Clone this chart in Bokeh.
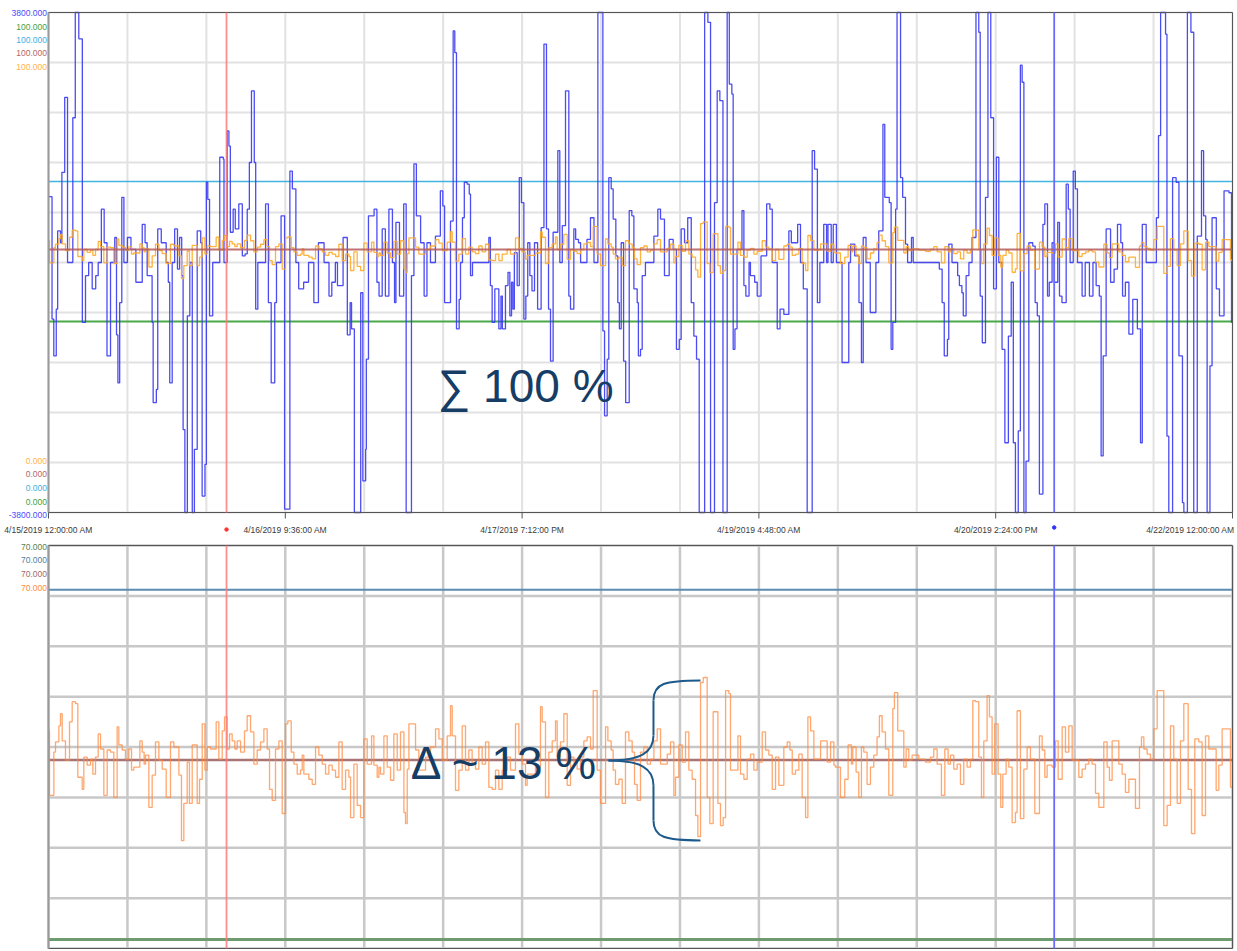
from bokeh.plotting import figure
from bokeh.models import Range1d, Label
from bokeh.core.properties import value
from bokeh.embed import file_html
from bokeh.resources import INLINE

# ---------------- data (hours since 4/15/2019 00:00) ----------------
blue_hours = [0.0, 0.5, 0.75, 1.1, 1.3, 1.7, 1.9, 2.3, 2.7, 3.45, 3.8, 4.3, 4.8, 5.25, 5.7, 6.2, 6.7, 7.05, 7.5, 7.9,
              8.3, 8.8, 9.4, 9.65, 9.85, 10.1, 10.4, 10.7, 11.2, 11.7, 12.4, 13.3, 13.7, 14.0, 14.7, 14.85, 15.3, 15.5,
              16.0, 16.7, 17.0, 17.2, 17.55, 17.9, 18.3, 18.6, 18.9, 19.1, 19.35, 19.7, 20.05, 20.4, 20.7, 21.1, 21.6,
              21.8, 22.2, 22.4, 22.6, 22.85, 23.3, 24.3, 24.8, 24.9, 25.35, 25.6, 25.8, 26.2, 26.5, 27.0, 27.5, 27.9,
              28.2, 28.5, 28.8, 29.2, 29.4, 29.7, 30.8, 31.2, 31.6, 32.1, 32.35, 33.0, 33.5, 34.25, 34.6, 35.1, 35.5,
              36.2, 36.9, 37.65, 38.3, 39.1, 39.8, 40.2, 40.7, 41.0, 41.8, 42.4, 42.8, 43.0, 43.4, 44.3, 44.6, 45.0,
              45.1, 45.4, 46.2, 46.6, 46.9, 47.35, 47.8, 48.3, 48.8, 49.1, 49.3, 49.8, 50.4, 50.75, 51.5, 51.85, 52.2,
              52.8, 53.3, 53.7, 54.2, 54.9, 55.6, 55.95, 56.2,
              57.04, 57.42, 57.65, 57.89, 58.27, 58.46, 58.74, 59.0, 59.4, 59.7, 59.88, 60.16, 62.48, 62.7, 62.95,
              63.33, 63.9, 64.2, 64.4, 64.84, 65.2, 65.46, 65.7, 65.9, 66.1, 66.5, 66.8, 67.1, 67.45, 67.73, 68.0,
              68.3, 68.6, 68.96, 69.4, 69.9, 70.3, 70.66, 70.95, 71.23, 71.6, 72.27, 72.55, 72.9, 73.36, 73.83, 74.07,
              74.54, 74.8, 75.2, 75.5, 76.4, 76.9, 77.4, 77.95, 78.66, 78.9, 79.27, 79.5, 79.84, 80.12, 80.5, 80.78,
              81.0, 81.26, 81.6, 81.9, 82.4, 82.77, 83.06, 83.53, 83.7, 84.0, 84.24, 84.7, 85.9, 86.46, 86.84, 87.4,
              88.07, 88.64, 89.1, 89.5, 89.77, 90.25, 90.7, 91.2, 91.57, 91.95, 92.33, 93.1, 93.56, 93.94, 94.5,
              94.88, 95.26, 95.7, 96.3, 96.6, 96.96, 97.15, 97.4, 97.7, 98.4, 98.67, 98.95, 99.4, 99.6, 100.2,
              100.56, 101.1, 101.9, 102.36, 102.7, 103.4, 103.8, 104.34, 105.05, 105.4, 106.3, 106.7, 107.1, 107.65,
              108.36, 108.7, 109.1, 109.45, 110.0, 110.4, 110.6, 111.06, 111.35, 111.8,
              112.6, 113.55, 113.8, 114.4, 115.0, 115.35, 115.6, 116.0, 116.6, 117.4, 117.8, 118.4, 118.66, 119.3,
              119.56, 119.8, 120.2, 120.4, 120.9, 121.2, 121.6, 121.9, 122.45, 122.7, 126.4, 126.8, 127.1, 127.55,
              127.74, 128.2, 129.0, 129.25, 129.6, 129.8, 130.2, 130.6, 131.05, 131.6, 132.0, 132.2, 132.5, 132.95,
              133.3, 133.7, 134.1, 134.5, 134.84, 135.3, 135.7, 136.2, 136.6, 136.9, 137.2, 137.6, 137.9, 138.15,
              138.4, 138.7, 139.1, 139.66, 140.0, 140.3, 140.6, 141.1, 141.37, 141.75, 142.0, 142.4, 142.7, 143.2,
              143.45, 143.8, 144.4, 144.7, 144.96, 145.4, 145.7, 146.0, 146.66, 147.1, 147.7, 148.2, 148.65, 149.1,
              149.36, 149.65, 150.07, 150.7, 151.2, 151.68, 152.15, 152.4, 152.8, 153.3, 153.85, 154.5, 154.95, 155.2,
              155.75, 157.2, 157.5, 157.8, 158.5, 158.7, 158.96, 159.5, 160.0, 160.4, 160.9, 161.1, 161.6, 162.1,
              162.5, 163.0, 163.6, 163.9, 164.2, 164.4, 164.8, 165.1, 165.7, 166.15, 166.8, 167.5, 167.86]
blue_values = [1000, -860, -1420, -710, 480, 300, 1370, 2510, 0, 2200, 3800, 3400, -910, -200, 0, -400, -200, 0, 810, 300,
               -1420, 0, 380, -1100, -1830, -610, 990, 0, 380, 200, -300, 580, 300, -200, -910, -2130, -1930, 510,
               300, 0, -300, -1830, 0, 510, -100, 380, -200, -2540, -3800, -810, 0, -3800, -2840, 480, 300,
               -3550, -3070, 1220, 960, -810, 0, 1600, 1570, 0, 2000, 1770, 460, 810, 510, 890, 100, 130,
               810, 1520, 2610, 1520, -710, 0, 890, -610, -1830, -610, 0, 710, -3750, 1390, 1120, 0, -400,
               -300, 0, -610, 300, 0, -510, -300, 0, -350, 380, -1100, -610, -1010, -3800, -460, -3320, -2840,
               -1470, 710, 810, -300, -510, 510, -510, 810, 0, -610, 610, -510, 890, -3800, -200, 1500, 710,
               300, -510, 300, 0, 400, 1090, 860, -610,
               630, 3520, 3190, -1010, -560, 0, 680, 1220, 1190, 1040, -200, 0, 380, -350, -910,
               -400, -1010, -510, -1010, -350, -150, -810, -300, -710, 150, -350, 1290, 910, -860, -510, 300,
               -200, -430, 300, -710, 530, 3320, 510, -710, -1500, 460, 1700, 0, 560, 2610, -510, -710,
               510, 350, 300, 0, 350, 680, 0, 3800, -1040, -2330, -1470, 1290, 1120, 660, 100, -610,
               -1010, 300, -1500, -2130, 790, 710, -400, -610, -1420, -1320, -200, 0, 400, 810, 660, -200,
               350, 200, -1320, -1170, 510, 300, 680, -610, -1120, -1470, -3800, 3800, 3650, -3800, 910,
               2610, 2460, -3800, 3800, 2710, 2560, -1320, -1010, 200, 790, -350, -510, 0, -200, -300,
               -510, 100, 890, 810, 0, -1010, -710, -790, 480, 300, 580, 0, -400, -3800,
               1700, 1420, -610, 0, 580, 0, 580, 0, 580, 0,
               -1520, 0, 280, 100, -610, -1520, 380, 0, -760, 0, 480, 2100, 990, 910,
               -1320, -910, 810, 3800, 1290, 990, 280, 0, 380, 0, -100, -610, -1420, -1170,
               280, 0, -200, -350, -460, -810, -200, 0, 380, 3800, 3500, -510, -1220, 990,
               3800, 2200, -400, 1600, 0, -1320, -2740, -1120, -300, -2740, -3800, -2560, 3000, 2740,
               -3800, -3020, 300, 250, -610, -810, -3520, 580, 890, -510, -300, 300, -300, 610,
               -510, -610, 1190, 810, 0, 1390, 1120, 0, -510, 0, -510, 0, -350, -510,
               -2940, -1420, 510, -300, -100, 580, 300, -510, -300, -1090, -560, -1010, -2740, 580,
               0, 680, 1930, 3800, 3470, -2640, -3800, 1290, 1220, -1420, -3650, -3800, 3800, 3500,
               -3800, 400, 1700, 710, 350, -3800, -1570, 680, -400, -810, 1090, 1060, -910]

orange_hours = [0.0, 0.14, 0.76, 0.99, 1.47, 1.7, 1.94, 2.41, 2.98, 3.36, 3.83, 4.16, 4.78, 5.01, 5.49, 5.96, 6.29, 6.67,
                7.05, 7.38, 7.85, 8.33, 8.8, 9.27, 9.74, 9.98, 10.45, 10.92, 11.4, 11.78, 12.1, 12.96, 13.29, 13.57,
                13.77, 14.24, 14.71, 15.18, 15.66, 16.13, 16.7, 17.31, 17.79, 18.5, 18.87, 19.2, 19.68, 20.0, 20.39,
                21.1, 21.43, 21.81, 22.19, 22.52, 22.99, 23.79, 24.17, 24.65, 24.98, 25.35, 25.69, 26.06, 26.44, 26.77,
                27.25, 27.81, 28.19, 28.67, 29.14, 29.61, 30.09, 30.56, 31.03, 31.36, 31.74, 32.21, 32.69, 33.16,
                33.63, 33.96, 34.44, 34.82, 35.29, 35.76, 36.0, 36.23, 36.94, 37.42, 37.89, 38.36, 38.84, 39.31,
                39.78, 40.26, 40.73, 41.2, 41.67, 42.15, 42.62, 42.86, 43.33, 43.8, 44.28, 44.75, 45.22, 45.84,
                46.17, 46.64, 46.88, 47.11, 47.59, 48.06, 48.53, 49.0, 49.48, 49.95, 50.43, 50.66, 50.9, 51.14,
                52.08, 52.55, 53.5, 54.2, 54.92, 55.4, 55.87,
                56.57, 57.04, 57.28, 57.75, 58.22, 58.7, 59.17, 59.64, 60.11, 60.59, 61.06, 61.53, 62.01, 62.48,
                62.95, 63.43, 63.9, 64.37, 65.08, 65.55, 66.26, 66.74, 67.21, 67.68, 67.92, 69.1, 69.81, 70.05,
                70.52, 70.99, 71.47, 71.94, 72.18, 72.65, 73.12, 73.6, 74.07, 74.54, 75.01, 75.49, 75.96, 76.43,
                76.91, 77.29, 77.85, 78.33, 79.04, 79.37, 79.84, 80.12, 80.45, 80.93, 81.4, 81.87, 82.35, 82.82,
                83.15, 83.53, 84.0, 84.48, 84.95, 85.42, 85.9, 86.37, 86.84, 87.79, 88.26, 88.73, 88.97, 89.44,
                89.92, 90.39, 90.86, 91.33, 91.81, 92.14, 92.52, 92.9, 93.46, 93.84, 94.31, 94.98, 95.35, 95.73,
                96.07, 96.54, 96.77, 97.82, 98.19, 98.67, 99.14, 99.61, 100.09, 100.56, 101.27, 101.74, 102.21,
                102.69, 103.16, 103.63, 104.34, 104.82, 105.2, 105.53, 106.0, 106.47, 106.94, 107.42, 107.75,
                108.13, 108.6, 109.55, 110.49, 110.97, 111.44,
                111.66, 112.37, 112.98, 113.46, 113.93, 114.12, 114.59, 114.97, 115.35, 115.68, 116.15, 116.63,
                117.1, 117.57, 117.9, 118.28, 118.76, 119.23, 119.8, 120.03, 120.5, 121.36, 121.69, 122.07, 122.54,
                123.49, 124.43, 125.14, 125.61, 126.09, 126.7, 127.18, 127.65, 127.98, 128.45, 128.93, 129.4,
                129.87, 130.34, 130.82, 131.15, 131.53, 132.0, 132.38, 132.71, 133.18, 133.51, 133.89, 134.27,
                134.74, 135.12, 135.41, 135.88, 136.26, 136.73, 137.2, 137.44, 137.91, 138.39, 138.86, 139.33,
                139.95, 140.61, 140.99, 141.37, 141.7, 142.41, 142.88, 143.26, 143.83, 144.3, 144.77, 145.25,
                146.19, 146.66, 147.14, 147.61, 148.08, 148.56, 149.03, 149.74, 150.21, 150.54, 150.92, 151.87,
                152.34, 152.81, 153.29, 154.23, 154.8, 155.08, 155.42, 155.89, 156.36, 156.83, 157.31, 158.25,
                158.73, 159.2, 159.67, 160.15, 160.62, 161.09, 161.71, 162.18, 162.65, 163.22, 163.69, 164.17,
                164.64, 165.68, 166.06, 166.53, 167.71]
orange_values = [51.6, 45.2, 49.5, 50.5, 52.1, 53.3, 50.6, 48.7, 52.5, 54.5, 54.3, 47.0, 45.8, 49.0, 48.2, 48.8, 47.3, 49.0,
                 51.3, 49.8, 45.2, 49.7, 49.5, 45.0, 52.0, 50.2, 49.7, 48.8, 49.8, 47.7, 48.0, 50.6, 49.5, 48.3,
                 49.2, 44.0, 47.2, 50.5, 48.7, 47.8, 45.0, 50.5, 50.0, 47.2, 40.7, 44.4, 48.5, 44.4, 50.2,
                 44.4, 46.8, 52.3, 47.7, 50.0, 49.8, 52.5, 48.8, 51.6, 53.0, 49.8, 51.3, 50.6, 49.8, 50.6,
                 49.5, 51.6, 53.1, 51.5, 48.3, 49.7, 50.5, 51.8, 49.8, 45.8, 44.7, 49.8, 50.6, 43.4,
                 52.3, 52.6, 49.5, 48.3, 47.3, 47.7, 49.2, 47.3, 46.8, 46.3, 50.0, 49.2, 48.3, 47.3,
                 48.2, 47.7, 47.0, 50.5, 45.8, 47.7, 47.0, 43.0, 48.3, 44.2, 43.0, 50.8, 48.3, 51.1,
                 48.2, 47.0, 48.0, 47.3, 51.1, 48.0, 46.7, 51.3, 47.7, 51.5, 43.5, 42.4, 47.8, 52.3,
                 49.7, 47.7, 49.0, 50.0, 51.8, 50.8, 48.7,
                 51.1, 54.1, 51.1, 45.7, 47.7, 52.1, 47.7, 49.7, 48.3, 47.8, 50.0, 48.3, 50.5, 46.0,
                 45.8, 47.7, 45.8, 47.7, 49.0, 47.7, 52.3, 49.3, 48.3, 46.2, 47.3, 48.0, 54.0, 52.5,
                 45.0, 49.5, 50.6, 52.6, 49.0, 50.5, 53.3, 46.2, 49.0, 48.5, 47.8, 49.0, 50.6, 51.0,
                 49.8, 55.6, 47.7, 44.4, 52.0, 50.6, 49.7, 47.7, 46.3, 46.8, 44.4, 51.5, 50.6, 49.5,
                 46.3, 44.7, 49.5, 50.0, 48.3, 48.8, 50.6, 51.8, 48.3, 49.3, 50.5, 45.2, 47.0, 50.2,
                 48.5, 51.5, 47.7, 46.8, 43.2, 41.1, 56.4, 56.9, 45.0, 42.4, 53.5, 44.4, 42.2, 43.0,
                 55.6, 55.3, 47.7, 51.1, 47.3, 46.8, 48.8, 49.3, 47.7, 48.5, 51.5, 49.7, 49.2,
                 45.8, 49.0, 46.2, 50.0, 50.5, 49.7, 47.3, 47.7, 49.3, 45.0, 43.0, 53.0,
                 51.6, 48.8, 50.6, 48.5, 50.5, 48.2,
                 48.0, 45.0, 46.8, 50.2, 48.3, 50.0, 47.5, 45.0, 50.0, 49.5, 46.3, 48.0,
                 49.2, 51.0, 53.1, 51.5, 49.8, 45.2, 53.8, 55.4, 51.6, 48.0, 49.8, 48.7, 49.2,
                 48.8, 48.5, 49.0, 49.8, 48.3, 45.2, 49.8, 48.3, 49.2, 47.8, 48.3, 46.3,
                 48.8, 48.0, 48.8, 54.6, 54.5, 49.0, 45.0, 50.6, 55.1, 53.0, 47.3, 52.3,
                 47.3, 44.0, 47.3, 48.8, 48.0, 42.5, 43.5, 53.6, 42.9, 47.8, 50.0, 48.8,
                 43.4, 51.1, 49.7, 47.0, 48.2, 48.0, 50.6, 46.8, 52.0, 49.5, 52.1, 48.7,
                 47.0, 47.8, 48.3, 48.8, 48.3, 45.4, 44.0, 50.5, 48.0, 46.7, 50.6, 48.3,
                 47.3, 45.5, 46.8, 43.9, 50.0, 51.0, 49.8, 49.3, 48.8, 51.8, 55.6, 42.2,
                 44.2, 52.1, 48.8, 44.4, 50.6, 54.3, 45.8, 41.4, 50.8, 50.5, 43.2, 51.1,
                 49.8, 45.7, 48.2, 51.8, 46.0]

start_hour, end_hour = 0.0, 168.0
tick_hours = [0, 33.6, 67.2, 100.8, 134.4, 168]
tick_labels = ["4/15/2019 12:00:00 AM", "4/16/2019 9:36:00 AM", "4/17/2019 7:12:00 PM",
               "4/19/2019 4:48:00 AM", "4/20/2019 2:24:00 PM", "4/22/2019 12:00:00 AM"]
grid_hours = [0, 11.2, 22.4, 33.6, 44.8, 56, 67.2, 78.4, 89.6, 100.8, 112, 123.2, 134.4, 145.6, 156.8, 168]

top_min, top_max = -3800, 3800
top_grid = [-3800, -3040, -2280, -1520, -760, 0, 760, 1520, 2280, 3040, 3800]
bot_min, bot_max = 30, 70
bot_grid = [30, 35, 40, 45, 50, 55, 60, 65, 70]

top_levels_pct = {"cyan": 66.2, "brown": 52.6, "green": 38.2}      # 0..100 scale
bottom_levels = {"blue": 65.6, "brown": 48.7, "green": 30.9}        # percent scale
cursor_red_hour = 25.26
cursor_blue_hour = 142.7

# stacked scale labels: (text, colour, y position in the panel's own units)
top_scale_labels = [("3800.000", "#4a4aff", 3785), ("100.000", "#3f9f3f", 3587), ("100.000", "#3fb0e0", 3382),
                    ("100.000", "#b56767", 3177), ("100.000", "#ffb347", 2972),
                    ("0.000", "#ffb347", -3010), ("0.000", "#b56767", -3215), ("0.000", "#3fb0e0", -3420),
                    ("0.000", "#3f9f3f", -3633), ("-3800.000", "#4a4aff", -3838)]
bottom_scale_labels = [("70.000", "#5b7f4f", 69.9), ("70.000", "#4f7fa3", 68.6), ("70.000", "#a06a6a", 67.2),
                       ("70.000", "#ff8c3d", 65.8)]

brace_tip = (79.45, 48.67)

# ---------------- canvas geometry ----------------
W, H = 1235, 949
PX_PER_HOUR = 1184 / 168.0
LEFT = 48                       # pixel column of hour 0
TOP_Y0, TOP_Y1 = 12, 512        # pixel rows of the top panel (top, bottom)
BOT_Y0, BOT_Y1 = 545, 948       # pixel rows of the bottom panel
OTOP_CENTER, OTOP_CENTER_PY, OTOP_PX_PER_UNIT = 49.0, 249, 3.5   # compressed copy of the % trace in the top panel


def rng(v_top, v_bottom, py_top, py_bottom):
    """Range whose values map v_top->py_top and v_bottom->py_bottom over the full canvas height."""
    per_px = (v_top - v_bottom) / (py_bottom - py_top)
    return Range1d(v_bottom - (H - py_bottom) * per_px, v_top + py_top * per_px)


def stepped(xs, ys):
    return list(xs) + [end_hour], list(ys) + [ys[-1]]


p = figure(width=W, height=H, output_backend="svg", toolbar_location=None,
           x_range=Range1d(-LEFT / PX_PER_HOUR, (W - LEFT) / PX_PER_HOUR),
           y_range=rng(top_max, top_min, TOP_Y0, TOP_Y1),
           x_axis_location=None, y_axis_location=None,
           min_border=0, min_border_left=0, min_border_right=0, min_border_top=0, min_border_bottom=0)
p.extra_y_ranges = {
    "pct": rng(100, 0, TOP_Y0, TOP_Y1),
    "otop": rng(OTOP_CENTER + (OTOP_CENTER_PY - TOP_Y0) / OTOP_PX_PER_UNIT,
                OTOP_CENTER - (TOP_Y1 - OTOP_CENTER_PY) / OTOP_PX_PER_UNIT, TOP_Y0, TOP_Y1),
    "bot": rng(bot_max, bot_min, BOT_Y0, BOT_Y1),
}
p.grid.visible = False
p.outline_line_color = None
p.background_fill_color = "white"
p.border_fill_color = "white"

n = len(grid_hours)
# ---- top panel grid
p.segment(x0=grid_hours, y0=[top_min] * n, x1=grid_hours, y1=[top_max] * n, line_color="#e2e2e2", line_width=2)
m = len(top_grid)
p.segment(x0=[start_hour] * m, y0=top_grid, x1=[end_hour] * m, y1=top_grid, line_color="#e2e2e2", line_width=2)

# ---- bottom panel grid
p.segment(x0=grid_hours, y0=[bot_min] * n, x1=grid_hours, y1=[bot_max] * n, y_range_name="bot",
          line_color="#c8c8c8", line_width=2.5)
k = len(bot_grid)
p.segment(x0=[start_hour] * k, y0=bot_grid, x1=[end_hour] * k, y1=bot_grid, y_range_name="bot",
          line_color="#c8c8c8", line_width=2.5)

# ---- reference levels (top)
p.segment(x0=[start_hour], y0=[top_levels_pct["cyan"]], x1=[end_hour], y1=[top_levels_pct["cyan"]],
          y_range_name="pct", line_color="#45b3e0", line_width=1.6)
p.segment(x0=[start_hour], y0=[top_levels_pct["green"]], x1=[end_hour], y1=[top_levels_pct["green"]],
          y_range_name="pct", line_color="#4aa84a", line_width=2)

# ---- series (top)
bx, by = stepped(blue_hours, blue_values)
p.step(bx, by, mode="after", line_color="#3838f2", line_width=1.3, line_alpha=0.9)
ox, oy = stepped(orange_hours, orange_values)
p.step(ox, oy, mode="after", y_range_name="otop", line_color="#ffaa2a", line_width=1.3, line_alpha=0.9)
p.segment(x0=[start_hour], y0=[top_levels_pct["brown"]], x1=[end_hour], y1=[top_levels_pct["brown"]],
          y_range_name="pct", line_color="#b45a5a", line_width=2, line_alpha=0.85)

# ---- reference levels + series (bottom)
for key, col, lw in [("blue", "#5a8db3", 2), ("green", "#6f9c6f", 3)]:
    p.segment(x0=[start_hour], y0=[bottom_levels[key]], x1=[end_hour], y1=[bottom_levels[key]],
              y_range_name="bot", line_color=col, line_width=lw)
p.segment(x0=[start_hour], y0=[bottom_levels["brown"]], x1=[end_hour], y1=[bottom_levels["brown"]],
          y_range_name="bot", line_color="#a87474", line_width=2.5)
p.step(ox, oy, mode="after", y_range_name="bot", line_color="#ff8a3d", line_width=1.3, line_alpha=0.75)

# ---- panel frames
p.quad(left=[start_hour], right=[end_hour], bottom=[top_min], top=[top_max], fill_color=None,
       line_color="#555555", line_width=1)
p.quad(left=[start_hour], right=[end_hour], bottom=[bot_min], top=[bot_max], y_range_name="bot",
       fill_color=None, line_color="#555555", line_width=1)
p.segment(x0=[start_hour], y0=[top_min], x1=[start_hour], y1=[top_max], line_color="#9a9a9a", line_width=2)
p.segment(x0=[start_hour], y0=[bot_min], x1=[start_hour], y1=[bot_max], y_range_name="bot",
          line_color="#9a9a9a", line_width=2)

# ---- cursors
for hour, col, alpha in [(cursor_red_hour, "#ff7a7a", 0.85), (cursor_blue_hour, "#6b6bff", 1.0)]:
    p.segment(x0=[hour], y0=[top_min], x1=[hour], y1=[top_max], line_color=col, line_width=1.8, line_alpha=alpha)
    p.segment(x0=[hour], y0=[bot_min], x1=[hour], y1=[bot_max], y_range_name="bot",
              line_color=col, line_width=1.8, line_alpha=alpha)
units_per_px = (top_max - top_min) / float(TOP_Y1 - TOP_Y0)
axis_label_y = top_min - 17 * units_per_px
tick_len = 6 * units_per_px
p.scatter(x=[cursor_red_hour, cursor_blue_hour], y=[axis_label_y, axis_label_y + 2 * units_per_px],
          color=["#ff3030", "#3030ff"], size=3.5)

# ---- time axis (ticks + labels)
nt = len(tick_hours)
p.segment(x0=tick_hours, y0=[top_min] * nt, x1=tick_hours, y1=[top_min - tick_len] * nt,
          line_color="#555555", line_width=1)
p.text(x=tick_hours[:-1], y=[axis_label_y] * (nt - 1), text=tick_labels[:-1],
       text_align="center", text_baseline="middle", text_color="#3a3a3a",
       text_font=value("Liberation Sans"), text_font_size=value("8.5px"))
p.text(x=[tick_hours[-1]], y=[axis_label_y], text=[tick_labels[-1]], x_offset=2,
       text_align="right", text_baseline="middle", text_color="#3a3a3a",
       text_font=value("Liberation Sans"), text_font_size=value("8.5px"))

# ---- stacked scale labels
lab_x = -1.5 / PX_PER_HOUR
p.text(x=[lab_x] * len(top_scale_labels), y=[t[2] for t in top_scale_labels],
       text=[t[0] for t in top_scale_labels], text_color=[t[1] for t in top_scale_labels],
       text_align="right", text_baseline="middle",
       text_font=value("Liberation Sans"), text_font_size=value("8.5px"))
p.text(x=[lab_x] * len(bottom_scale_labels), y=[t[2] for t in bottom_scale_labels], y_range_name="bot",
       text=[t[0] for t in bottom_scale_labels], text_color=[t[1] for t in bottom_scale_labels],
       text_align="right", text_baseline="middle",
       text_font=value("Liberation Sans"), text_font_size=value("8.5px"))

# ---- annotations
p.add_layout(Label(x=55.2, y=-1870, text="\u2211 100 %", text_color="#163d66",
                   text_font="Liberation Sans", text_font_size="46px", text_baseline="middle"))
p.add_layout(Label(x=51.4, y=48.4, y_range_name="bot", text="\u0394 ~ 13 %", text_color="#163d66",
                   text_font="Liberation Sans", text_font_size="46px", text_baseline="middle"))

tx, ty = brace_tip
brace_col = "#1d5a8c"
p.bezier(x0=[tx, tx], y0=[ty, ty], x1=[85.84, 85.84], y1=[51.15, 46.19],
         cx0=[84.0, 84.0], cy0=[ty, ty], cx1=[85.84, 85.84], cy1=[49.46, 47.88],
         y_range_name="bot", line_color=brace_col, line_width=2)
p.segment(x0=[85.84, 85.84], y0=[51.15, 46.19], x1=[85.84, 85.84], y1=[54.63, 42.71],
          y_range_name="bot", line_color=brace_col, line_width=2)
p.bezier(x0=[85.84, 85.84], y0=[54.63, 42.71], x1=[92.51, 92.51], y1=[56.61, 40.73],
         cx0=[85.84, 85.84], cy0=[56.31, 41.03], cx1=[87.5, 87.5], cy1=[56.61, 40.73],
         y_range_name="bot", line_color=brace_col, line_width=2)

open("out.html", "w").write(file_html(p, INLINE))
